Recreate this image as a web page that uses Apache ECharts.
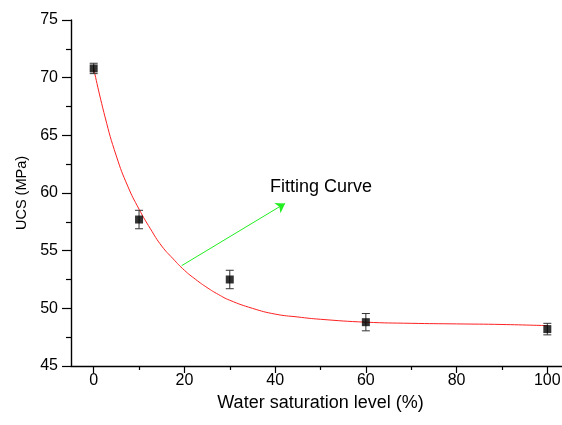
<!DOCTYPE html>
<html>
<head>
<meta charset="utf-8">
<script src="https://cdn.jsdelivr.net/npm/echarts@6/dist/echarts.min.js"></script>
<style>
  html, body { margin: 0; padding: 0; background: #fff; }
  #chart { width: 562px; height: 425px; }
</style>
</head>
<body>
<div id="chart"></div>
<script>
// Measured uniaxial compressive strength vs. water saturation
const waterSaturation = [0, 10, 30, 60, 100];
const ucsMean = [70.8, 57.7, 52.5, 48.8, 48.2];
const ucsError = [0.45, 0.8, 0.8, 0.75, 0.5];

// Fitted exponential-decay curve, sampled along its trace
const fitX = [0, 2.5, 5, 7.5, 10, 12.5, 15, 17.5, 20, 22.5, 25, 27.5, 30, 35, 40, 45, 50, 60, 70, 80, 90, 100];
const fitY = [70.8, 66.6, 63.2, 60.6, 58.6, 56.9, 55.4, 54.3, 53.3, 52.5, 51.8, 51.2, 50.7, 50.0, 49.5, 49.25, 49.05, 48.8, 48.7, 48.65, 48.6, 48.5];

// Annotation arrow pointing at the fitted curve label
const arrowFrom = [19.4, 53.7];
const arrowTo = [42.2, 59.1];
const arrowText = 'Fitting Curve';

// Axis ticks
const xMajorTicks = [0, 20, 40, 60, 80, 100];
const xMinorTicks = [10, 30, 50, 70, 90];

const FONT = 'Liberation Sans, Arial, sans-serif';

const chart = echarts.init(document.getElementById('chart'), null, { renderer: 'canvas' });

const points = waterSaturation.map((x, i) => [x, ucsMean[i]]);
const errorData = waterSaturation.map((x, i) => [x, ucsMean[i] - ucsError[i], ucsMean[i] + ucsError[i]]);
const fitData = fitX.map((x, i) => [x, fitY[i]]);

const axisLineStyle = { color: '#000', width: 1.4 };
const tickLineStyle = { color: '#000', width: 1.2 };

chart.setOption({
  backgroundColor: '#fff',
  animation: false,
  grid: { left: 71, top: 20, bottom: 59, right: -8, containLabel: false, outerBoundsMode: 'none' },
  xAxis: [
    {
      type: 'value', min: -5, max: 105, position: 'bottom',
      name: 'Water saturation level (%)', nameLocation: 'middle', nameGap: 23,
      nameTextStyle: { fontSize: 18, color: '#000', fontFamily: FONT },
      axisLine: { show: true, onZero: false, lineStyle: axisLineStyle },
      axisTick: { show: true, length: 7, customValues: xMajorTicks, lineStyle: tickLineStyle },
      axisLabel: { show: true, customValues: xMajorTicks, fontSize: 16, color: '#000', fontFamily: FONT, margin: 7 },
      splitLine: { show: false }
    },
    {
      type: 'value', min: -5, max: 105, position: 'bottom',
      axisLine: { show: false },
      axisTick: { show: true, length: 4, customValues: xMinorTicks, lineStyle: tickLineStyle },
      axisLabel: { show: false },
      splitLine: { show: false }
    }
  ],
  yAxis: {
    type: 'value', min: 45, max: 75, interval: 5,
    name: 'UCS (MPa)', nameLocation: 'middle', nameGap: 40,
    nameTextStyle: { fontSize: 14.5, color: '#000', fontFamily: FONT },
    axisLine: { show: true, onZero: false, lineStyle: axisLineStyle },
    axisTick: { show: true, length: 9, lineStyle: tickLineStyle },
    minorTick: { show: true, splitNumber: 2, length: 5, lineStyle: tickLineStyle },
    axisLabel: { fontSize: 16, color: '#000', fontFamily: FONT, margin: 13 },
    splitLine: { show: false }
  },
  series: [
    {
      name: 'Fitting Curve',
      type: 'line',
      data: fitData,
      smooth: true,
      showSymbol: false,
      symbol: 'none',
      lineStyle: { color: '#ff2020', width: 1 },
      z: 2
    },
    {
      name: 'Error',
      type: 'custom',
      data: errorData,
      renderItem: function (params, api) {
        const x = api.value(0);
        const lo = api.coord([x, api.value(1)]);
        const hi = api.coord([x, api.value(2)]);
        const half = 4;
        const style = { stroke: '#333', lineWidth: 1 };
        return {
          type: 'group',
          children: [
            { type: 'line', shape: { x1: lo[0], y1: lo[1], x2: hi[0], y2: hi[1] }, style: style },
            { type: 'line', shape: { x1: lo[0] - half, y1: lo[1], x2: lo[0] + half, y2: lo[1] }, style: style },
            { type: 'line', shape: { x1: hi[0] - half, y1: hi[1], x2: hi[0] + half, y2: hi[1] }, style: style }
          ]
        };
      },
      z: 3
    },
    {
      name: 'UCS',
      type: 'scatter',
      data: points,
      symbol: 'rect',
      symbolSize: 8,
      itemStyle: { color: '#000' },
      z: 4
    },
    {
      name: 'Arrow',
      type: 'lines',
      coordinateSystem: 'cartesian2d',
      data: [{ coords: [arrowFrom, arrowTo] }],
      symbol: ['none', 'arrow'],
      symbolSize: 9,
      lineStyle: { color: '#22ee22', width: 1, opacity: 1 },
      silent: true,
      z: 3
    }
  ],
  graphic: [
    {
      type: 'text', left: 270, top: 178,
      style: { text: arrowText, fontSize: 18, fill: '#000', fontFamily: FONT }
    }
  ]
});
</script>
</body>
</html>
